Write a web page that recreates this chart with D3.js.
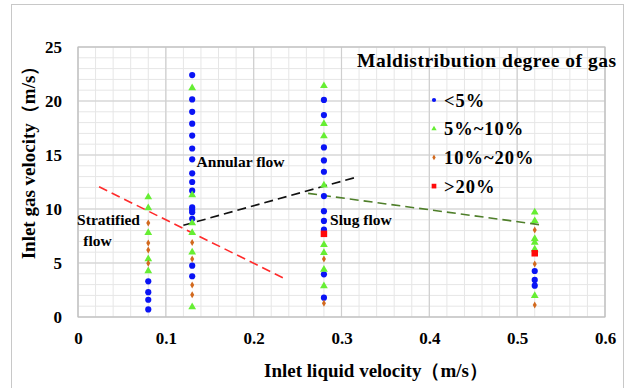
<!DOCTYPE html>
<html>
<head>
<meta charset="utf-8">
<script src="https://cdn.jsdelivr.net/npm/d3@7"></script>
<style>
  body { margin: 0; background: #fff; }
  svg text { font-family: "Liberation Serif", "Times New Roman", Tinos, Times, "DejaVu Serif", serif; font-weight: bold; fill: #000; }
</style>
</head>
<body>
<div id="chart"></div>
<script>
// points, [liquid velocity, gas velocity]
const below5 = [
  [0.08, 3.3], [0.08, 2.3], [0.08, 1.6], [0.08, 0.7],
  [0.13, 22.4], [0.13, 20.15], [0.13, 19.0], [0.13, 17.9], [0.13, 16.8], [0.13, 15.6],
  [0.13, 14.6], [0.13, 13.3], [0.13, 12.5], [0.13, 11.7], [0.13, 10.15], [0.13, 9.9],
  [0.13, 9.7], [0.13, 9.1], [0.13, 4.75], [0.13, 3.77],
  [0.28, 20.1], [0.28, 18.7], [0.28, 15.7], [0.28, 14.5], [0.28, 13.45], [0.28, 11.2],
  [0.28, 9.8], [0.28, 8.9], [0.28, 8.1], [0.28, 3.95], [0.28, 1.79],
  [0.52, 4.26], [0.52, 3.43], [0.52, 2.9]
];
const from5to10 = [
  [0.08, 11.1], [0.08, 10.1], [0.08, 7.8], [0.08, 5.37], [0.08, 4.26],
  [0.13, 21.2], [0.13, 11.3], [0.13, 8.7], [0.13, 7.8], [0.13, 6.0], [0.13, 0.93],
  [0.28, 21.4], [0.28, 17.9], [0.28, 16.75], [0.28, 12.2], [0.28, 6.7], [0.28, 5.95],
  [0.28, 4.4], [0.28, 2.87],
  [0.52, 9.7], [0.52, 8.9], [0.52, 7.25], [0.52, 6.9], [0.52, 6.27], [0.52, 1.97]
];
const from10to20 = [
  [0.08, 8.7], [0.08, 6.85], [0.08, 6.2], [0.08, 4.97],
  [0.13, 6.9], [0.13, 5.37], [0.13, 2.96], [0.13, 2.07],
  [0.28, 5.37], [0.28, 1.27],
  [0.52, 8.05], [0.52, 4.9], [0.52, 1.11]
];
const above20 = [[0.28, 7.7], [0.52, 5.9]];

// flow regime boundaries
const stratifiedLine = [[0.024, 12.06], [0.2346, 3.58]];
const annularLine = [[0.12, 8.49], [0.315, 12.9]];
const slugLine = [[0.262, 11.45], [0.53, 8.5]];

const xTicks = [0, 0.1, 0.2, 0.3, 0.4, 0.5, 0.6];
const yTicks = [0, 5, 10, 15, 20, 25];
const legendLabels = ["<5%", "5%~10%", "10%~20%", ">20%"];
const regimeLabels = [
  { text: "Annular flow", x: 0.135, y: 13.9 },
  { text: "Slug flow", x: 0.287, y: 8.5 },
  { text: "Stratified", x: -0.001, y: 8.5 },
  { text: "flow", x: 0.006, y: 6.55 }
];

const W = 629, H = 388;
const svg = d3.select("#chart").append("svg").attr("width", W).attr("height", H);

// outer frame
svg.append("rect").attr("x", 11.5).attr("y", 4.5).attr("width", 612).attr("height", 400)
  .attr("fill", "none").attr("stroke", "#c8c8c8");

const x = d3.scaleLinear().domain([0, 0.6]).range([78, 605]);
const y = d3.scaleLinear().domain([0, 25]).range([317, 47]);

// minor grid
const g = svg.append("g");
g.selectAll(".vx").data(d3.range(0, 31).map(i => i * 0.02)).join("line")
  .attr("x1", d => x(d)).attr("x2", d => x(d)).attr("y1", y(0)).attr("y2", y(25))
  .attr("stroke", "#e6e6e6").attr("stroke-width", 1);
g.selectAll(".hy").data(d3.range(0, 26)).join("line")
  .attr("x1", x(0)).attr("x2", x(0.6)).attr("y1", d => y(d)).attr("y2", d => y(d))
  .attr("stroke", "#e6e6e6").attr("stroke-width", 1);
// major grid
g.selectAll(".mx").data(xTicks).join("line")
  .attr("x1", d => x(d)).attr("x2", d => x(d)).attr("y1", y(0)).attr("y2", y(25))
  .attr("stroke", "#cfcfcf").attr("stroke-width", 1.2);
g.selectAll(".my").data(yTicks).join("line")
  .attr("x1", x(0)).attr("x2", x(0.6)).attr("y1", d => y(d)).attr("y2", d => y(d))
  .attr("stroke", "#cfcfcf").attr("stroke-width", 1.2);
g.append("rect").attr("x", x(0)).attr("y", y(25)).attr("width", x(0.6) - x(0)).attr("height", y(0) - y(25))
  .attr("fill", "none").attr("stroke", "#bdbdbd");

// axes (labels only)
const xAxis = svg.append("g").attr("transform", `translate(0,${y(0)})`)
  .call(d3.axisBottom(x).tickValues(xTicks).tickSize(0).tickPadding(15).tickFormat(d => d === 0 ? "0" : d3.format(".1f")(d)));
const yAxis = svg.append("g").attr("transform", `translate(${x(0)},0)`)
  .call(d3.axisLeft(y).tickValues(yTicks).tickSize(0).tickPadding(16));
[xAxis, yAxis].forEach(a => {
  a.select(".domain").remove();
  a.attr("font-family", null).attr("font-size", null);
  a.selectAll("text").attr("font-size", 17).attr("fill", "#000");
});

svg.append("text").attr("x", 376).attr("y", 377).attr("text-anchor", "middle")
  .attr("font-size", 19).text("Inlet liquid velocity（m/s）");
svg.append("text").attr("transform", "translate(35,158) rotate(-90)").attr("text-anchor", "middle")
  .attr("font-size", 19).text("Inlet gas velocity（m/s）");

// boundary lines
const line = d3.line().x(d => x(d[0])).y(d => y(d[1]));
svg.append("path").attr("d", line(stratifiedLine)).attr("fill", "none")
  .attr("stroke", "#ff2a2a").attr("stroke-width", 1.6).attr("stroke-dasharray", "9,5");
svg.append("path").attr("d", line(annularLine)).attr("fill", "none")
  .attr("stroke", "#111").attr("stroke-width", 1.6).attr("stroke-dasharray", "9,5");
svg.append("path").attr("d", line(slugLine)).attr("fill", "none")
  .attr("stroke", "#4f7f2a").attr("stroke-width", 1.6).attr("stroke-dasharray", "9,5");

// markers
const colors = ["#0a14f5", "#66ee33", "#d2691e", "#ff0a0a"];
const shapes = [d3.symbolCircle, d3.symbolTriangle, d3.symbolDiamond, d3.symbolSquare];
const sizes = [30, 26, 14, 42];
const series = [below5, from5to10, from10to20, above20];
series.forEach((pts, i) => {
  svg.append("g").selectAll("path").data(pts).join("path")
    .attr("transform", d => `translate(${x(d[0])},${y(d[1])})`)
    .attr("d", d3.symbol(shapes[i], sizes[i]))
    .attr("fill", colors[i]);
});

// regime labels
svg.append("g").selectAll("text").data(regimeLabels).join("text")
  .attr("x", d => x(d.x)).attr("y", d => y(d.y))
  .attr("font-size", 15.5).text(d => d.text);

// legend
svg.append("text").attr("x", 357).attr("y", 67).attr("font-size", 19.5)
  .attr("letter-spacing", 0.5).text("Maldistribution degree of gas");
const leg = svg.append("g").selectAll("g").data(legendLabels).join("g")
  .attr("transform", (d, i) => `translate(434,${100 + i * 28.7})`);
leg.append("path").attr("d", (d, i) => d3.symbol(shapes[i], [14, 12, 10, 22][i])())
  .attr("fill", (d, i) => colors[i]);
leg.append("text").attr("x", 10).attr("y", 6.5).attr("font-size", 18.5)
  .attr("letter-spacing", 1).text(d => d);
</script>
</body>
</html>
